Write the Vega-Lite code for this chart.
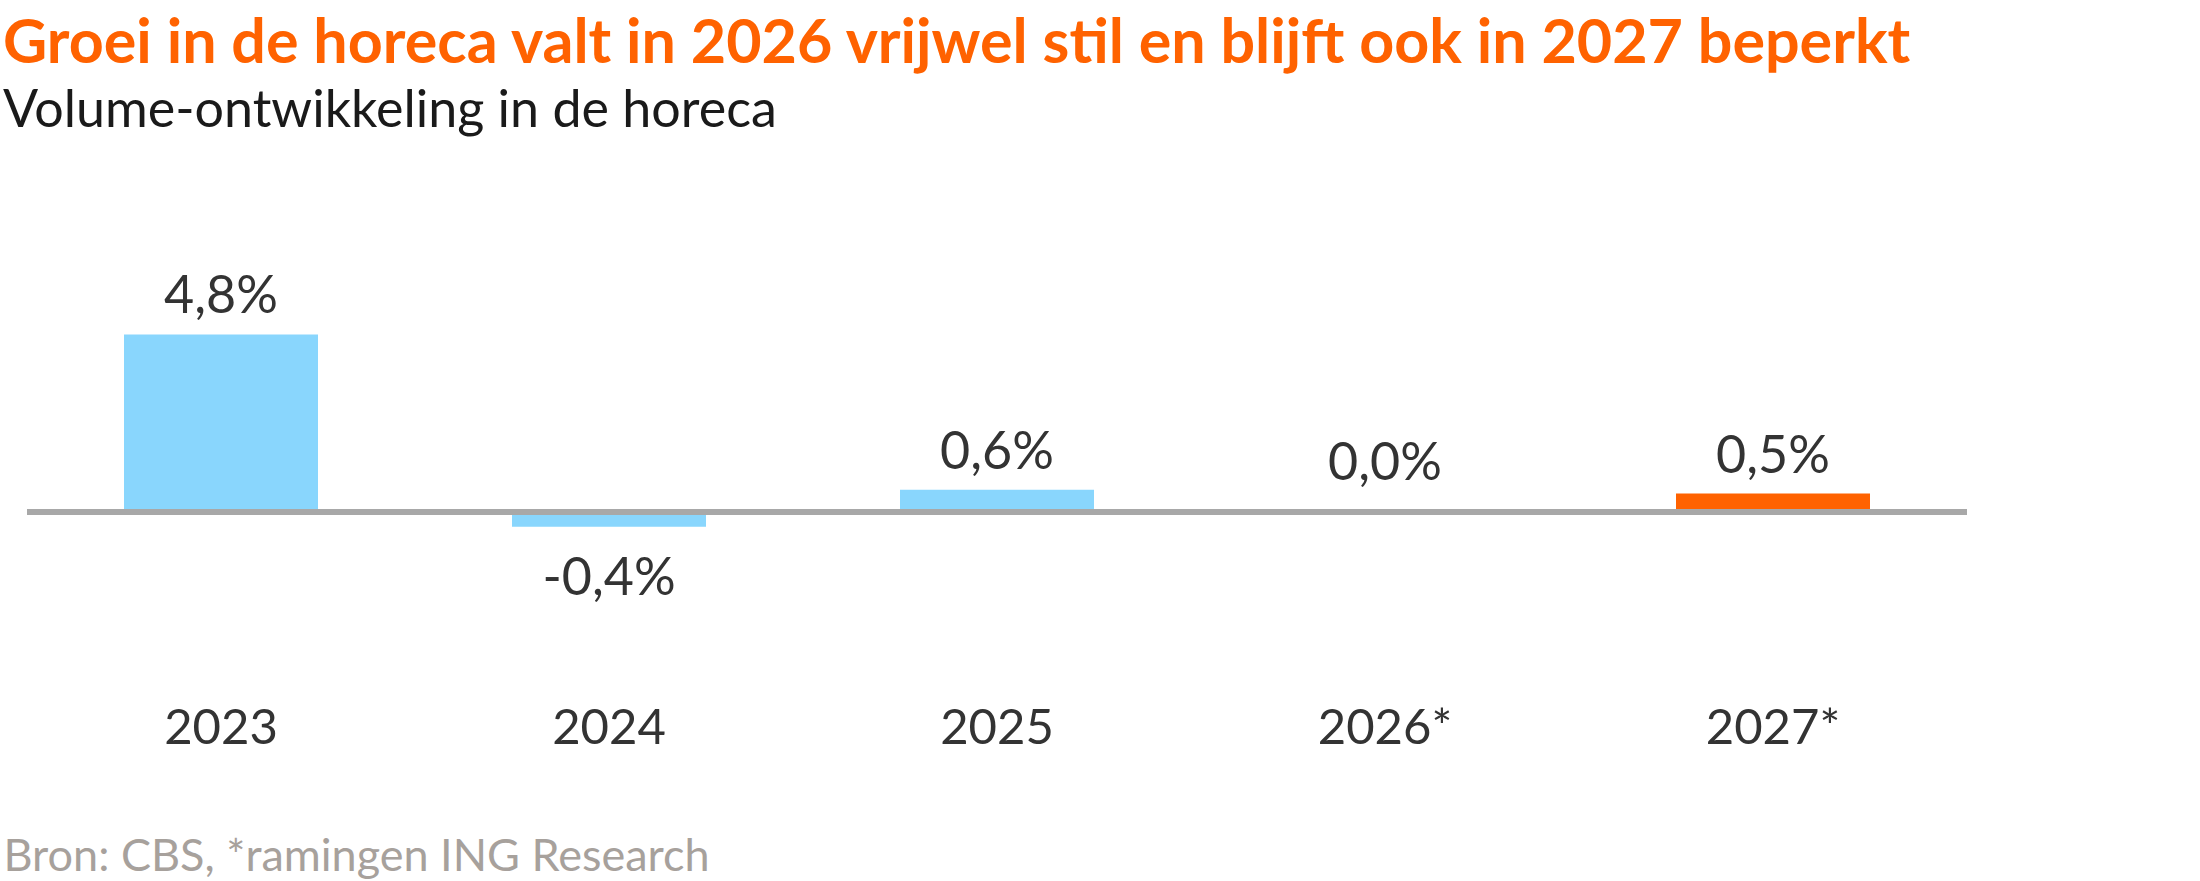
{
  "$schema": "https://vega.github.io/schema/vega-lite/v6.json",
  "width": 1940,
  "height": 370,
  "padding": {"left": 3, "top": 14, "right": 0, "bottom": 0},
  "title": {
    "text": "Groei in de horeca valt in 2026 vrijwel stil en blijft ook in 2027 beperkt",
    "subtitle": "Volume-ontwikkeling in de horeca",
    "anchor": "start",
    "frame": "group",
    "dx": -24,
    "font": "Lato",
    "fontSize": 61,
    "fontWeight": "bold",
    "color": "#FF6200",
    "subtitleFont": "Lato",
    "subtitleFontSize": 52,
    "subtitleColor": "#1a1a1a",
    "subtitlePadding": 10,
    "offset": 133
  },
  "data": {
    "values": [
      {"jaar": "2023", "groei": 0.048, "soort": "realisatie"},
      {"jaar": "2024", "groei": -0.004, "soort": "realisatie"},
      {"jaar": "2025", "groei": 0.006, "soort": "realisatie"},
      {"jaar": "2026*", "groei": 0.0, "soort": "raming"},
      {"jaar": "2027*", "groei": 0.005, "soort": "raming"}
    ]
  },
  "encoding": {
    "x": {
      "field": "jaar",
      "type": "nominal",
      "sort": null,
      "scale": {"paddingInner": 0.5, "paddingOuter": 0.25},
      "axis": {
        "labelAngle": 0,
        "labelBaseline": "alphabetic",
        "labelPadding": 83,
        "title": "Bron: CBS, *ramingen ING Research",
        "titleAnchor": "start",
        "titleAlign": "left",
        "titleBaseline": "alphabetic",
        "titleX": -24,
        "titleY": 210
      }
    },
    "y": {
      "field": "groei",
      "type": "quantitative",
      "scale": {"domain": [-0.04, 0.06], "nice": false},
      "axis": null
    }
  },
  "layer": [
    {
      "mark": {"type": "bar"},
      "encoding": {
        "color": {
          "field": "soort",
          "type": "nominal",
          "legend": null,
          "scale": {"domain": ["realisatie", "raming"], "range": ["#89D6FD", "#FF6200"]}
        }
      }
    },
    {
      "mark": {"type": "rule", "color": "#A8A8A8", "strokeWidth": 6},
      "encoding": {"x": null, "y": {"datum": 0}}
    },
    {
      "transform": [{"filter": "datum.groei > 0"}],
      "mark": {"type": "text", "baseline": "alphabetic", "dy": -21, "font": "Lato", "fontSize": 52, "color": "#333333"},
      "encoding": {"text": {"field": "groei", "type": "quantitative", "format": ".1%"}}
    },
    {
      "transform": [{"filter": "datum.groei == 0"}],
      "mark": {"type": "text", "baseline": "alphabetic", "dy": -32, "font": "Lato", "fontSize": 52, "color": "#333333"},
      "encoding": {"text": {"field": "groei", "type": "quantitative", "format": ".1%"}}
    },
    {
      "transform": [{"filter": "datum.groei < 0"}],
      "mark": {"type": "text", "baseline": "alphabetic", "dy": 68, "font": "Lato", "fontSize": 52, "color": "#333333"},
      "encoding": {"text": {"field": "groei", "type": "quantitative", "format": ".1%"}}
    }
  ],
  "config": {
    "locale": {
      "number": {"decimal": ",", "thousands": ".", "grouping": [3], "currency": ["€ ", ""], "minus": "-"}
    },
    "view": {"stroke": null},
    "axis": {
      "domain": false,
      "ticks": false,
      "grid": false,
      "labelFont": "Lato",
      "labelFontSize": 49,
      "labelColor": "#333333",
      "titleFont": "Lato",
      "titleFontSize": 45,
      "titleFontWeight": "normal",
      "titleColor": "#A7A19C"
    }
  }
}
